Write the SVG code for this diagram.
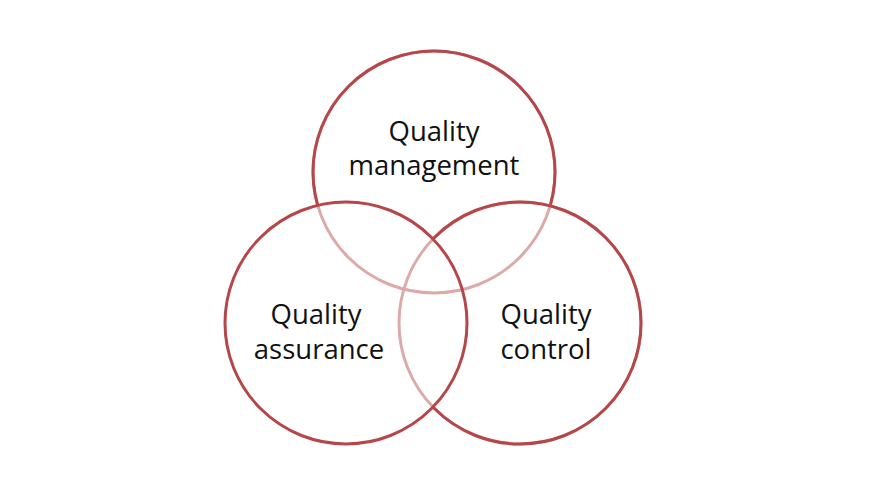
<svg xmlns="http://www.w3.org/2000/svg" width="870" height="500" viewBox="0 0 870 500">
<style>
.light{fill:none;stroke:#dcaaa9;stroke-width:3}
.dark{fill:none;stroke:#b5474a;stroke-width:3}
text{font-family:"Open Sans","Liberation Sans",sans-serif;font-size:27.5px;fill:#111;text-anchor:middle}
</style>
<defs>
<mask id="mTop" maskUnits="userSpaceOnUse" x="0" y="0" width="870" height="500"><rect width="870" height="500" fill="#fff"/><circle cx="346" cy="323" r="120" fill="#000"/><circle cx="520" cy="323" r="120" fill="#000"/></mask>
<mask id="mRight" maskUnits="userSpaceOnUse" x="0" y="0" width="870" height="500"><rect width="870" height="500" fill="#fff"/><circle cx="346" cy="323" r="120" fill="#000"/></mask>
</defs>
<rect width="870" height="500" fill="#fff"/>
<g id="top">
<circle class="light" cx="434" cy="172" r="121"/>
<circle class="dark" cx="434" cy="172" r="121" mask="url(#mTop)"/>
<text x="434" y="141">Quality</text><text x="434" y="175">management</text>
</g>
<g id="right">
<circle class="light" cx="520" cy="323" r="121"/>
<circle class="dark" cx="520" cy="323" r="121" mask="url(#mRight)"/>
<text x="546" y="324">Quality</text><text x="546" y="359">control</text>
</g>
<g id="left">
<circle class="dark" cx="346" cy="323" r="121"/>
<text x="316" y="324">Quality</text><text x="319" y="359">assurance</text>
</g>
<g id="connectors"/>
</svg>
